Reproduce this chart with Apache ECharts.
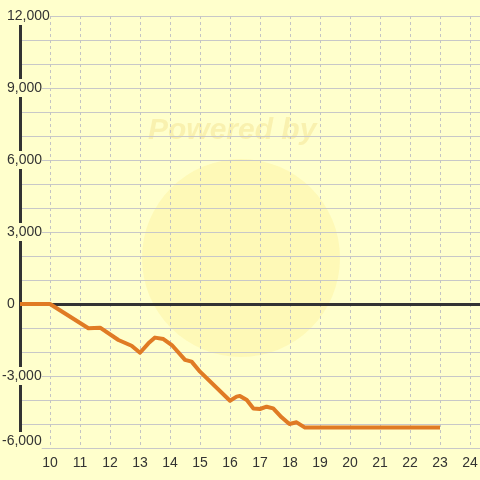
<!DOCTYPE html>
<html><head><meta charset="utf-8">
<script src="https://cdn.jsdelivr.net/npm/echarts@6/dist/echarts.min.js"></script>
<style>html,body{margin:0;padding:0;background:#ffffcc}#c{width:480px;height:480px}</style>
</head><body><div id="c"></div>
<script>
const xValues = [9, 10, 11.28, 11.67, 12.28, 12.72, 13.0, 13.28, 13.5, 13.78, 14.06, 14.5, 14.72, 15.0, 16.0, 16.22, 16.33, 16.56, 16.78, 17.0, 17.22, 17.44, 17.72, 17.98, 18.22, 18.5, 23.0];
const yValues = [0, 0, -1010, -985, -1500, -1740, -2030, -1640, -1400, -1460, -1710, -2330, -2400, -2820, -4030, -3860, -3830, -4000, -4350, -4375, -4280, -4350, -4720, -5000, -4930, -5150, -5150];
const xTicks = [10, 11, 12, 13, 14, 15, 16, 17, 18, 19, 20, 21, 22, 23, 24];
const yTicks = [-6000, -3000, 0, 3000, 6000, 9000, 12000];

const chart = echarts.init(document.getElementById('c'));
const bg = '#ffffcc';
const font = 'Liberation Sans, Arial, sans-serif';
chart.setOption({
  backgroundColor: bg,
  animation: false,
  textStyle: {fontFamily: font},
  grid: {left: 20, right: 0, top: 16, bottom: 32, containLabel: false, outerBoundsMode: 'none'},
  graphic: [
    {type: 'circle', z: -10, shape: {cx: 241, cy: 258, r: 99},
      style: {fill: 'rgba(250,222,90,0.18)'}},
    {type: 'text', z: -10, left: 148, top: 116,
      style: {text: 'Powered by', font: 'italic bold 30px ' + font, fill: 'rgba(235,210,110,0.3)'}}
  ],
  xAxis: {
    type: 'value', min: 9, max: 24.3333, interval: 1,
    axisLine: {show: false}, axisTick: {show: false},
    axisLabel: {color: '#333', fontSize: 14, margin: 8, showMaxLabel: false, showMinLabel: false,
      formatter: v => (xTicks.indexOf(v) >= 0 ? String(v) : '')},
    splitLine: {show: true, lineStyle: {color: '#c4c4c4', width: 1, type: [3, 3]}}
  },
  yAxis: {
    type: 'value', min: -6000, max: 12000, interval: 3000,
    axisLine: {show: true, lineStyle: {color: '#333', width: 3}},
    axisTick: {show: false},
    axisLabel: {color: '#333', fontSize: 14, align: 'left', margin: 18,
      backgroundColor: bg, padding: [2, 0, 2, 0],
      formatter: v => {
        if (yTicks.indexOf(v) < 0) return '';
        const s = v.toLocaleString('en-US');
        if (v === -6000) return '{low|' + s + '}';
        if (v < 0) return '{n|' + s + '}';
        return '{p|' + s + '}';
      },
      rich: {
        p: {color: '#333', fontSize: 14, fontFamily: font, padding: [0, 0, 0, 5]},
        n: {color: '#333', fontSize: 14, fontFamily: font},
        low: {color: '#333', fontSize: 14, fontFamily: font, padding: [0, 0, 14, 0]}
      }},
    splitLine: {show: true, lineStyle: {color: '#c8c8c8', width: 1.2}},
    minorTick: {show: false, splitNumber: 3},
    minorSplitLine: {show: true, lineStyle: {color: '#c8c8c8', width: 1.2}}
  },
  series: [
    {type: 'line', data: [], z: 1, silent: true,
      markLine: {symbol: 'none', silent: true, label: {show: false},
        lineStyle: {color: '#333', width: 3, type: 'solid'},
        data: [{yAxis: 0}]}},
    {type: 'line', z: 5, showSymbol: false, symbol: 'none',
      data: xValues.map((x, i) => [x, yValues[i]]),
      lineStyle: {color: '#e07b24', width: 4, join: 'round'}}
  ]
});
</script></body></html>
